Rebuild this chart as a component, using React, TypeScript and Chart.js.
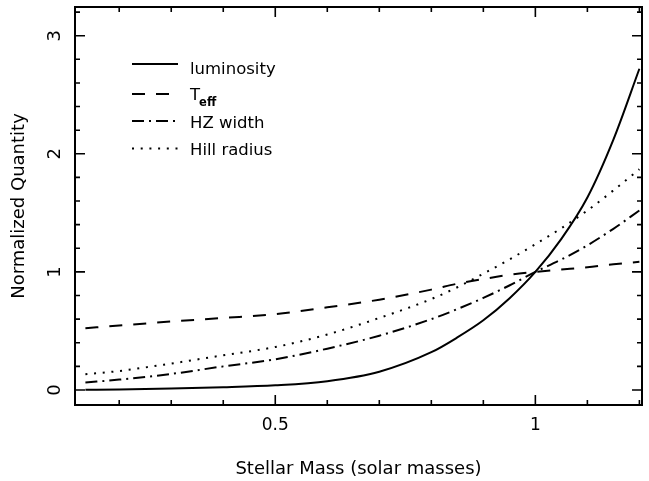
import React, { useEffect, useRef } from 'react';
import { Chart, registerables } from 'chart.js';

Chart.register(...registerables);

// ---- data ----
const masses = [0.135, 0.2, 0.3, 0.4, 0.5, 0.6, 0.7, 0.8, 0.85, 0.9, 0.95, 1.0, 1.05, 1.1, 1.15, 1.2];
const luminosity = [0.002, 0.005, 0.012, 0.023, 0.04, 0.075, 0.155, 0.32, 0.445, 0.59, 0.775, 1.0, 1.28, 1.63, 2.12, 2.72];
const teff = [0.523, 0.546, 0.58, 0.61, 0.642, 0.7, 0.765, 0.85, 0.9, 0.94, 0.975, 1.0, 1.02, 1.04, 1.065, 1.085];
const hzWidth = [0.063, 0.088, 0.136, 0.2, 0.26, 0.35, 0.46, 0.6, 0.685, 0.78, 0.885, 1.0, 1.105, 1.225, 1.365, 1.52];
const hillRadius = [0.133, 0.161, 0.224, 0.294, 0.364, 0.47, 0.61, 0.77, 0.87, 0.985, 1.105, 1.235, 1.37, 1.52, 1.69, 1.87];

const legendMain = ['luminosity', 'T', 'HZ width', 'Hill radius'];
const legendSub = ['', 'eff', '', ''];

const xTickValues = [0.5, 1];
const yTickValues = [0, 1, 2, 3];
const xMin = 0.115;
const xMax = 1.205;
const yMin = -0.127;
const yMax = 3.243;
const xMinorStep = 0.1;
const xMajorStep = 0.5;
const yMinorStep = 0.2;
const yMajorStep = 1;
const xTitle = 'Stellar Mass (solar masses)';
const yTitle = 'Normalized Quantity';

const FONT = 'DejaVu Sans';
const dashes: number[][] = [[], [13, 11], [12, 5, 2, 5], [2, 6.7]];
const seriesValues = [luminosity, teff, hzWidth, hillRadius];

const framePlugin = {
  id: 'frameTicks',
  afterDatasetsDraw(chart: any) {
    const { ctx, chartArea: a, scales } = chart;
    const x = scales.x;
    const y = scales.y;
    ctx.save();
    ctx.strokeStyle = '#000';
    ctx.lineWidth = 2;
    ctx.strokeRect(a.left, a.top, a.right - a.left, a.bottom - a.top);
    ctx.lineWidth = 1.6;
    ctx.beginPath();
    for (let k = Math.ceil(x.min / xMinorStep - 1e-9); k * xMinorStep <= x.max + 1e-9; k++) {
      const v = k * xMinorStep;
      const px = x.getPixelForValue(v);
      const major = Math.abs(v / xMajorStep - Math.round(v / xMajorStep)) < 1e-6;
      const len = major ? 10 : 5;
      ctx.moveTo(px, a.bottom);
      ctx.lineTo(px, a.bottom - len);
      ctx.moveTo(px, a.top);
      ctx.lineTo(px, a.top + len);
    }
    for (let k = Math.ceil(y.min / yMinorStep - 1e-9); k * yMinorStep <= y.max + 1e-9; k++) {
      const v = k * yMinorStep;
      const py = y.getPixelForValue(v);
      const major = Math.abs(v / yMajorStep - Math.round(v / yMajorStep)) < 1e-6;
      const len = major ? 10 : 5;
      ctx.moveTo(a.left, py);
      ctx.lineTo(a.left + len, py);
      ctx.moveTo(a.right, py);
      ctx.lineTo(a.right - len, py);
    }
    ctx.stroke();

    // legend
    const rowsY = [64, 94, 121, 148.5];
    const textY = [73.5, 100, 127.5, 155];
    const x0 = 132;
    const x1 = 178;
    const tx = 190;
    for (let i = 0; i < legendMain.length; i++) {
      ctx.setLineDash(dashes[i]);
      ctx.lineWidth = 2;
      ctx.beginPath();
      ctx.moveTo(x0, rowsY[i]);
      ctx.lineTo(x1, rowsY[i]);
      ctx.stroke();
      ctx.setLineDash([]);
      ctx.fillStyle = '#000';
      ctx.textBaseline = 'alphabetic';
      ctx.textAlign = 'left';
      ctx.font = `16.5px "${FONT}"`;
      ctx.fillText(legendMain[i], tx, textY[i]);
      if (legendSub[i]) {
        const w = ctx.measureText(legendMain[i]).width;
        ctx.font = `bold 11.5px "${FONT}"`;
        ctx.fillText(legendSub[i], tx + w - 1, textY[i] + 6);
      }
    }
    ctx.restore();
  },
};

export default function App() {
  const ref = useRef<HTMLCanvasElement | null>(null);
  useEffect(() => {
    if (!ref.current) return;
    const chart = new Chart(ref.current, {
      type: 'line',
      data: {
        datasets: seriesValues.map((vals, i) => ({
          label: legendMain[i] + legendSub[i],
          data: masses.map((m, j) => ({ x: m, y: vals[j] })),
          borderColor: '#000',
          borderWidth: 2,
          borderDash: dashes[i],
          pointRadius: 0,
          fill: false,
          cubicInterpolationMode: 'monotone' as const,
        })),
      },
      options: {
        animation: false,
        responsive: false,
        devicePixelRatio: 1,
        layout: { padding: { left: 0, right: 7, top: 7, bottom: 0 } },
        plugins: { legend: { display: false }, tooltip: { enabled: false } },
        scales: {
          x: {
            type: 'linear',
            min: xMin,
            max: xMax,
            afterBuildTicks: (s: any) => {
              s.ticks = xTickValues.map((v) => ({ value: v }));
            },
            afterFit: (s: any) => {
              s.height = 76;
              s.paddingLeft = 0;
              s.paddingRight = 0;
              s.paddingTop = 0;
              s.paddingBottom = 0;
            },
            grid: { display: false, drawTicks: false },
            border: { display: false },
            ticks: {
              font: { family: FONT, size: 17 },
              color: '#000',
              padding: 10,
              maxRotation: 0,
              autoSkip: false,
              callback: (v: any) => String(v),
            },
            title: {
              display: true,
              text: xTitle,
              color: '#000',
              font: { family: FONT, size: 18 },
              padding: { top: 0, bottom: 1 },
            },
          },
          y: {
            type: 'linear',
            min: yMin,
            max: yMax,
            afterBuildTicks: (s: any) => {
              s.ticks = yTickValues.map((v) => ({ value: v }));
            },
            afterFit: (s: any) => {
              s.width = 75;
              s.paddingLeft = 0;
              s.paddingRight = 0;
              s.paddingTop = 0;
              s.paddingBottom = 0;
            },
            grid: { display: false, drawTicks: false },
            border: { display: false },
            ticks: {
              font: { family: FONT, size: 18 },
              color: '#000',
              padding: 14,
              minRotation: 90,
              maxRotation: 90,
              crossAlign: 'center',
              autoSkip: false,
              callback: (v: any) => String(v),
            },
            title: {
              display: true,
              text: yTitle,
              color: '#000',
              font: { family: FONT, size: 18 },
              padding: { top: 9, bottom: 0 },
            },
          },
        },
      },
      plugins: [framePlugin],
    } as any);
    return () => chart.destroy();
  }, []);
  return (
    <div style={{ position: 'absolute', left: 0, top: 0, width: 649, height: 481, background: '#fff' }}>
      <canvas ref={ref} width={649} height={481} />
    </div>
  );
}
